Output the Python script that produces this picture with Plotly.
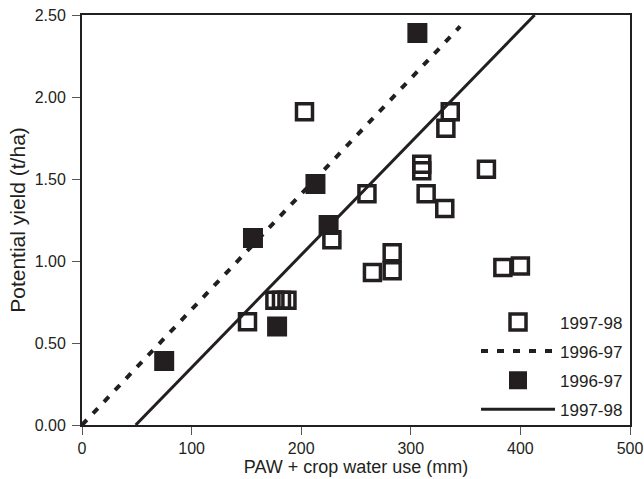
import plotly.graph_objects as go

# ---- data ----
open_x = [203, 336, 332, 310, 310, 314, 369, 331, 228, 260, 283, 283, 265, 384, 400, 151, 176, 182, 187]
open_y = [1.91, 1.91, 1.81, 1.59, 1.55, 1.41, 1.56, 1.32, 1.13, 1.41, 1.05, 0.94, 0.93, 0.96, 0.97, 0.63, 0.76, 0.76, 0.76]

filled_x = [75, 156, 213, 225, 178, 306]
filled_y = [0.39, 1.14, 1.47, 1.22, 0.60, 2.39]

dash_x = [0, 345]
dash_y = [0.0, 2.43]

solid_x = [49, 413]
solid_y = [0.0, 2.50]

x_ticks = [0, 100, 200, 300, 400, 500]
y_ticks = [0.0, 0.5, 1.0, 1.5, 2.0, 2.5]

DARK = "#231f20"
FONT = "Liberation Sans, Arial, sans-serif"

fig = go.Figure()

fig.add_trace(go.Scatter(
    x=open_x, y=open_y, mode="markers", name="1997-98",
    legendgroup="a", legendrank=1,
    marker=dict(symbol="square-open", size=16, color=DARK, line=dict(width=3.5, color=DARK)),
))
fig.add_trace(go.Scatter(
    x=dash_x, y=dash_y, mode="lines", name="1996-97",
    legendgroup="b", legendrank=2,
    line=dict(color=DARK, width=4, dash="7px,9px"),
))
fig.add_trace(go.Scatter(
    x=filled_x, y=filled_y, mode="markers", name="1996-97",
    legendgroup="c", legendrank=3,
    marker=dict(symbol="square", size=18, color=DARK, line=dict(width=2, color=DARK)),
))
fig.add_trace(go.Scatter(
    x=solid_x, y=solid_y, mode="lines", name="1997-98",
    legendgroup="d", legendrank=4,
    line=dict(color=DARK, width=3),
))

axis_common = dict(
    showgrid=False, zeroline=False, automargin=False,
    showline=True, linecolor=DARK, linewidth=2, mirror=True,
    ticks="outside", ticklen=8, tickwidth=1, tickcolor="#555555",
    tickfont=dict(family=FONT, size=16, color=DARK),
)

fig.update_layout(
    width=644, height=479,
    margin=dict(l=82, r=14, t=15, b=54),
    paper_bgcolor="white", plot_bgcolor="white",
    font=dict(family=FONT, color=DARK),
    xaxis=dict(range=[0, 500], tickvals=x_ticks, ticktext=[str(v) for v in x_ticks],
               title=dict(text="PAW + crop water use (mm)", font=dict(family=FONT, size=18, color=DARK), standoff=2),
               **axis_common),
    yaxis=dict(range=[0, 2.5], tickvals=y_ticks, ticktext=[f"{v:.2f}" for v in y_ticks],
               ticklabelstandoff=3,
               title=dict(text="Potential yield (t/ha)", font=dict(family=FONT, size=21, color=DARK), standoff=3),
               **axis_common),
    showlegend=True,
    legend=dict(
        x=0.719, y=0.294, xanchor="left", yanchor="top",
        traceorder="grouped", tracegroupgap=4, itemwidth=74,
        bgcolor="rgba(0,0,0,0)", borderwidth=0,
        font=dict(family=FONT, size=17, color=DARK),
    ),
)

fig.write_html("out.html")
